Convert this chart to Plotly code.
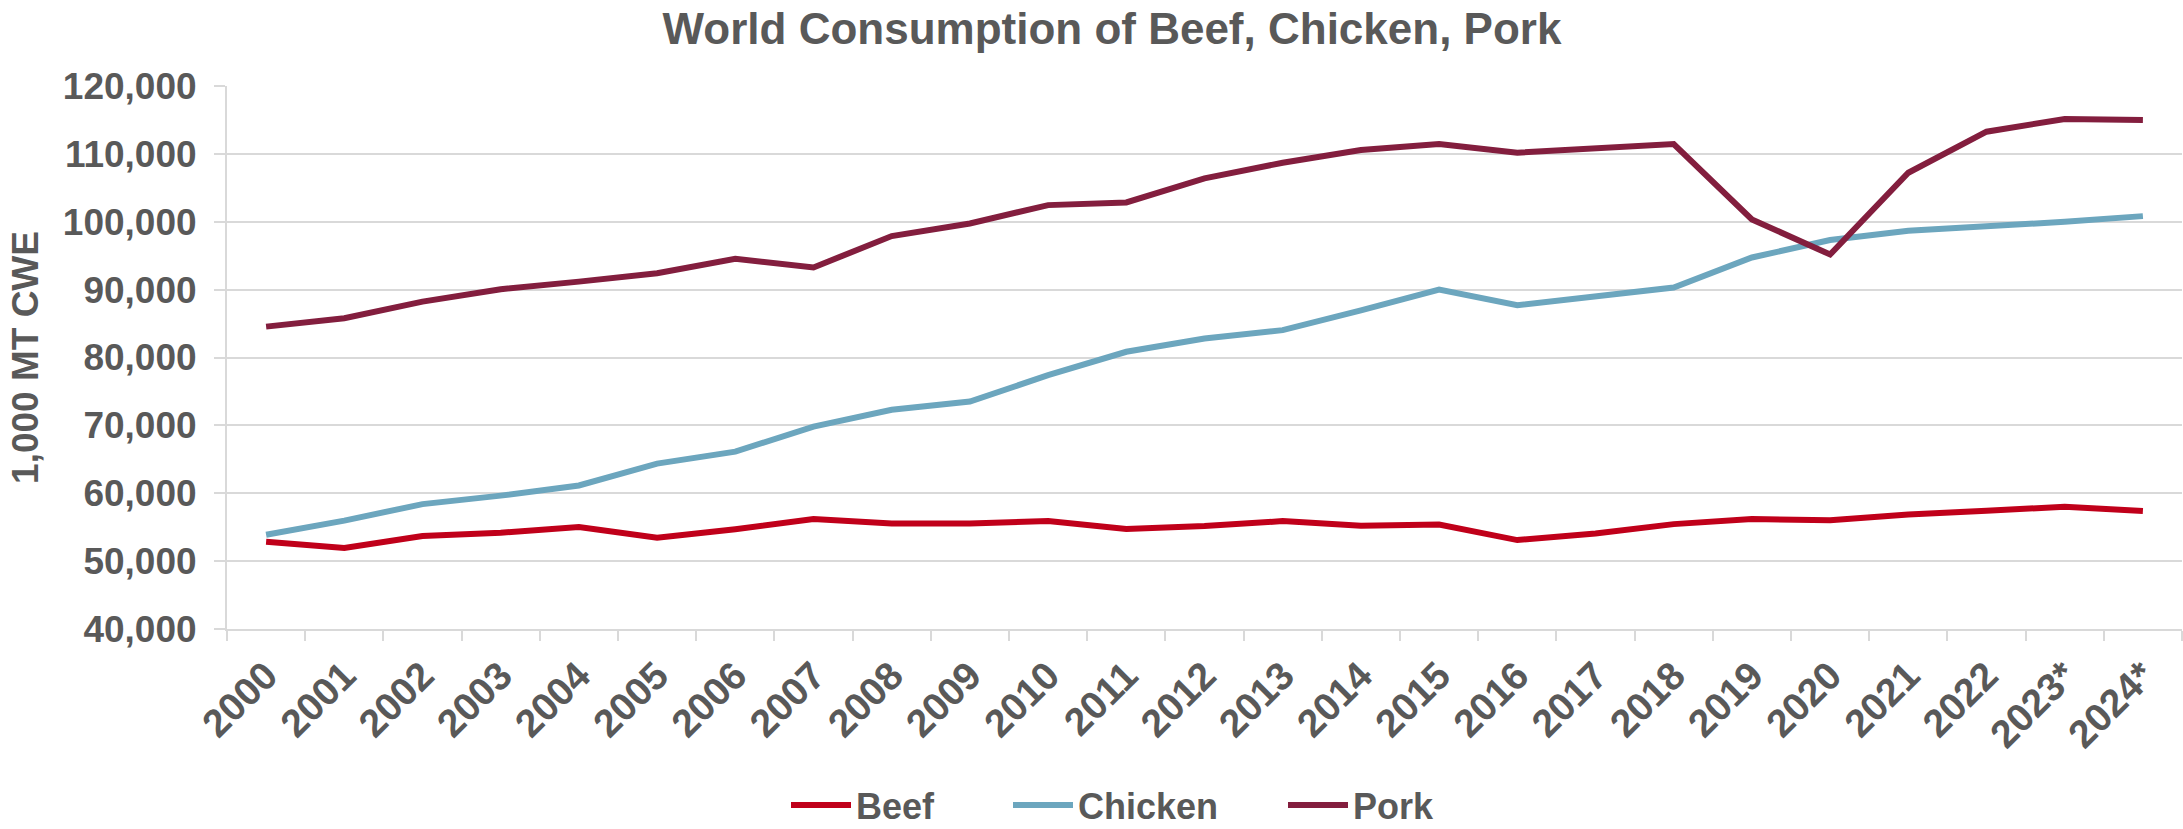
import plotly.graph_objects as go

# Marketing years (last two are forecasts)
years = ["2000", "2001", "2002", "2003", "2004", "2005", "2006", "2007", "2008",
         "2009", "2010", "2011", "2012", "2013", "2014", "2015", "2016", "2017",
         "2018", "2019", "2020", "2021", "2022", "2023*", "2024*"]

# World consumption, 1,000 MT carcass weight equivalent
beef = [52840, 51940, 53690, 54180, 55030, 53430, 54700, 56190, 55550, 55550,
        55900, 54720, 55160, 55900, 55210, 55400, 53100, 54080, 55450, 56190,
        56040, 56880, 57420, 58010, 57370]
chicken = [53880, 55970, 58400, 59650, 61140, 64370, 66130, 69820, 72290, 73510,
           77400, 80840, 82800, 84030, 86950, 90000, 87700, 88940, 90320, 94740,
           97300, 98670, 99260, 100000, 100830]
pork = [84550, 85790, 88230, 90060, 91180, 92420, 94550, 93270, 97890, 99750,
        102450, 102850, 106390, 108700, 110560, 111450, 110170, 110800, 111450,
        100340, 95180, 107220, 113270, 115140, 114990]

series = [("Beef", beef, "#C0001A"),
          ("Chicken", chicken, "#6CA6BE"),
          ("Pork", pork, "#831E3E")]

# one legend box per series so each entry sits at its own spot on the bottom row
legend_ids = ["legend", "legend2", "legend3"]
legend_left = [786, 1008, 1283]

W, H = 2183, 829
FONT = "Liberation Sans, Arial, sans-serif"
TEXT = "#595959"
GRID = "#D9D9D9"

fig = go.Figure()
for (name, vals, color), lid in zip(series, legend_ids):
    fig.add_trace(go.Scatter(
        x=years, y=vals, name=name, mode="lines",
        line=dict(color=color, width=6),
        legend=lid,
    ))

legend_font = dict(family=FONT, size=36, color=TEXT, weight="bold")
legend_layout = {}
for lid, left in zip(legend_ids, legend_left):
    legend_layout[lid] = dict(
        orientation="h",
        x=left / W, xanchor="left", xref="container",
        y=1 - 805 / H, yanchor="middle", yref="container",
        font=legend_font,
        itemwidth=60,
        bgcolor="rgba(0,0,0,0)",
    )

fig.update_layout(
    width=W, height=H,
    margin=dict(l=227, r=1, t=86, b=200),
    paper_bgcolor="white", plot_bgcolor="white",
    font=dict(family=FONT, color=TEXT, size=36, weight="bold"),
    title=dict(
        text="World Consumption of Beef, Chicken, Pork",
        font=dict(family=FONT, size=44, color=TEXT, weight="bold"),
        x=0.5094, xanchor="center", xref="container",
        y=1 - 29 / H, yanchor="middle", yref="container",
    ),
    showlegend=True,
    **legend_layout,
)

fig.update_xaxes(
    type="category",
    range=[-0.5, len(years) - 0.5],
    tickson="boundaries",
    ticks="outside", ticklen=10, tickwidth=2, tickcolor=GRID,
    showline=True, linecolor=GRID, linewidth=2,
    showgrid=False,
    tickangle=-45,
    ticklabelstandoff=6,
    tickfont=dict(family=FONT, size=39, color=TEXT, weight="bold"),
    automargin=False,
)

fig.update_yaxes(
    range=[40000, 120000],
    dtick=10000,
    tickformat=",",
    showgrid=True, gridcolor=GRID, gridwidth=2,
    zeroline=False,
    showline=True, linecolor=GRID, linewidth=2,
    ticks="outside", ticklen=11, tickwidth=2, tickcolor=GRID,
    ticklabelstandoff=10,
    tickfont=dict(family=FONT, size=37, color=TEXT, weight="bold"),
    title=dict(
        text="1,000 MT CWE",
        font=dict(family=FONT, size=37, color=TEXT, weight="bold"),
        standoff=13,
    ),
    automargin=False,
)

fig.write_html("out.html")
